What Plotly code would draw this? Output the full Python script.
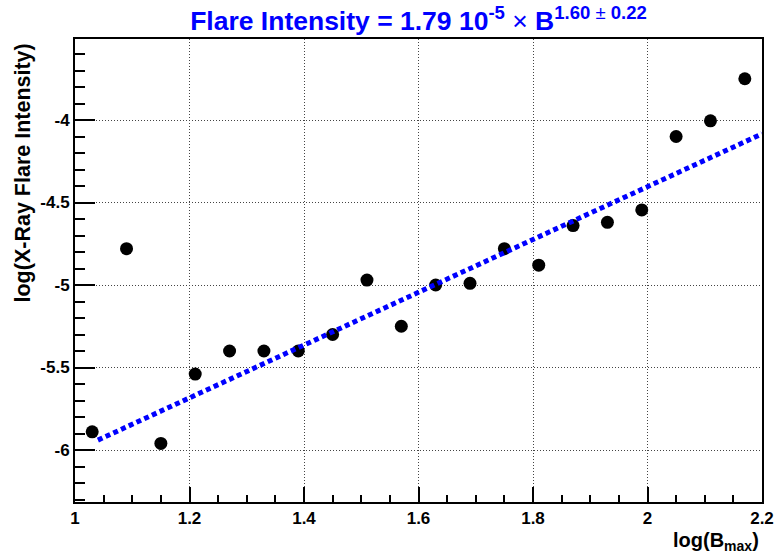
import plotly.graph_objects as go

# ---- data ----
log_bmax = [1.03, 1.09, 1.15, 1.21, 1.27, 1.33, 1.39, 1.45, 1.51, 1.57,
            1.63, 1.69, 1.75, 1.81, 1.87, 1.93, 1.99, 2.05, 2.11, 2.17]
log_flare = [-5.89, -4.78, -5.96, -5.54, -5.40, -5.40, -5.40, -5.30, -4.97, -5.25,
             -5.00, -4.99, -4.78, -4.88, -4.64, -4.62, -4.545, -4.10, -4.005, -3.75]

fit_slope = 1.60
fit_intercept = -7.604
fit_x = [1.04, 2.2]
fit_y = [fit_intercept + fit_slope * v for v in fit_x]

x_tickvals = [1, 1.2, 1.4, 1.6, 1.8, 2, 2.2]
x_ticktext = ["1", "1.2", "1.4", "1.6", "1.8", "2", "2.2"]
y_tickvals = [-6, -5.5, -5, -4.5, -4]
y_ticktext = ["-6", "-5.5", "-5", "-4.5", "-4"]

FONT = "Liberation Sans, Arial, Helvetica, sans-serif"

fig = go.Figure()
fig.add_trace(go.Scatter(
    x=log_bmax, y=log_flare, mode="markers",
    marker=dict(color="black", size=13, line=dict(width=0)),
    showlegend=False, hoverinfo="skip"))
fig.add_trace(go.Scatter(
    x=fit_x, y=fit_y, mode="lines",
    line=dict(color="#0000ff", width=5, dash="5px,3.5px"),
    showlegend=False, hoverinfo="skip"))

axis_common = dict(
    showline=True, linecolor="black", linewidth=2, mirror=True,
    ticks="inside", tickcolor="black", tickwidth=1.5,
    showgrid=True, gridcolor="#444444", gridwidth=1, griddash="1px,2px",
    zeroline=False, automargin=False,
    tickfont=dict(family=FONT, size=17, color="black", weight="bold"),
)

fig.update_xaxes(
    range=[1, 2.2], tickvals=x_tickvals, ticktext=x_ticktext, ticklen=15,
    minor=dict(dtick=0.05, ticks="inside", ticklen=7, tickcolor="black",
               tickwidth=1.5, showgrid=False),
    **axis_common)
fig.update_yaxes(
    range=[-6.315, -3.509], tickvals=y_tickvals, ticktext=y_ticktext, ticklen=20,
    minor=dict(dtick=0.1, ticks="inside", ticklen=10, tickcolor="black",
               tickwidth=1.5, showgrid=False),
    **axis_common)

fig.update_layout(
    width=774, height=556,
    margin=dict(l=75, r=12, t=39, b=54, pad=0),
    paper_bgcolor="white", plot_bgcolor="white",
    title=dict(
        text="<b>Flare Intensity = 1.79 10<sup>-5</sup></b> \u00d7 <b>B<sup>1.60</sup></b><sup> \u00b1 </sup><b><sup>0.22</sup></b>",
        font=dict(family=FONT, size=26.5, color="#0000ff"),
        x=0.5, xref="paper", xanchor="center",
        y=0.962, yref="container", yanchor="middle"),
    annotations=[
        dict(text="<b>log(X-Ray Flare Intensity)</b>", textangle=-90,
             xref="paper", yref="paper", x=-53 / 687, y=1 - 3 / 463,
             xanchor="center", yanchor="top", showarrow=False,
             font=dict(family=FONT, size=21.5, color="black")),
        dict(text="<b>log(B<sub>max</sub>)</b>",
             xref="paper", yref="paper", x=0.998, y=-25 / 463,
             xanchor="right", yanchor="top", showarrow=False,
             font=dict(family=FONT, size=20, color="black")),
    ],
)

fig.write_html("out.html", config={"displayModeBar": False},
               post_script="document.body.style.margin='0';document.body.style.padding='0';")
